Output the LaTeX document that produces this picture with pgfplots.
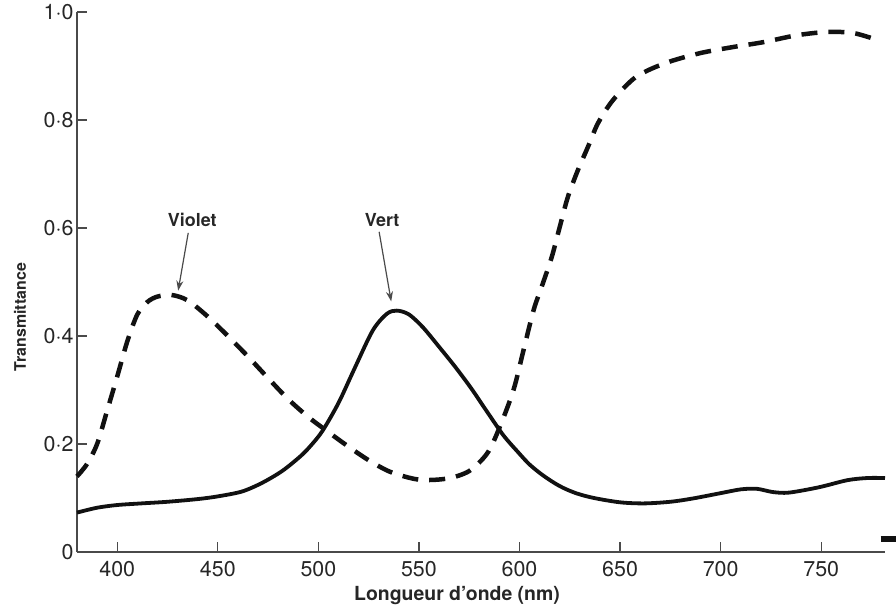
\documentclass[border=0pt]{standalone}
\usepackage{pgfplots}
\pgfplotsset{compat=1.18}
\usetikzlibrary{arrows.meta}
\usepackage{fontspec}
\setmainfont{TeX Gyre Heros}
\definecolor{axisgray}{HTML}{4A4A4A}
\definecolor{textgray}{HTML}{262626}
\definecolor{curveblack}{HTML}{111111}

\begin{document}
\begin{tikzpicture}
\path[use as bounding box] (-77bp,-58bp) rectangle (819bp,552bp);
\begin{axis}[
  at={(0,0)}, anchor=south west,
  scale only axis, width=808bp, height=540bp,
  xmin=380, xmax=781.7, ymin=0, ymax=1,
  axis x line=bottom, axis y line=left,
  axis line style={-, draw=axisgray, line width=1.4bp},
  tick align=inside,
  major tick length=10bp,
  tick style={draw=axisgray, line width=1.3bp},
  xtick={400,450,500,550,600,650,700,750},
  ytick={0,0.2,0.4,0.6,0.8,1.0},
  yticklabels={0,0·2,0·4,0·6,0·8,1·0},
  /pgf/number format/assume math mode=true,
  ticklabel style={font=\fontsize{21.5}{24}\selectfont, text=textgray},
  xticklabel style={yshift=-6bp},
  xlabel={Longueur d'onde (nm)},
  ylabel={Transmittance},
  xlabel style={at={(axis description cs:0.4703,-0.0889)}, anchor=base, font=\fontsize{19.5}{22}\selectfont\bfseries, text=textgray},
  ylabel style={at={(axis description cs:-0.0705,0.435)}, anchor=center, font=\fontsize{16}{19}\selectfont\bfseries, text=textgray},
  clip=false,
]
% Violet (dashed)
\addplot[curveblack, line width=4.5bp, dash pattern=on 16bp off 11bp, smooth, tension=0.5] coordinates {
(380,0.140)(385,0.163)(390,0.200)(395,0.262)(400,0.325)(405,0.390)(410,0.440)(415,0.463)(420,0.473)(427,0.476)(435,0.466)(445,0.436)(455,0.400)(465,0.362)(475,0.322)(485,0.283)(495,0.250)(505,0.222)(515,0.195)(525,0.170)(536,0.148)(550,0.134)(564,0.136)(575,0.150)(584,0.183)(590,0.230)(597,0.300)(602,0.374)(607,0.448)(611,0.491)(616,0.546)(620,0.602)(624,0.657)(629,0.707)(634,0.750)(639,0.794)(646.5,0.837)(658,0.880)(673,0.906)(690,0.924)(706,0.935)(721,0.944)(738,0.957)(753,0.963)(766,0.961)(778,0.948)
};
% Vert (solid)
\addplot[curveblack, line width=3.8bp, smooth, tension=0.5] coordinates {
(380,0.073)(390,0.082)(400,0.087)(412,0.090)(425,0.093)(440,0.098)(450,0.103)(462,0.112)(472,0.128)(482,0.150)(491,0.177)(496,0.196)(502,0.224)(510,0.276)(518,0.340)(527,0.410)(534,0.441)(539,0.447)(545,0.440)(552,0.416)(560,0.380)(568,0.343)(576,0.303)(584,0.259)(592,0.216)(599,0.186)(605,0.162)(612,0.141)(620,0.122)(628,0.109)(637,0.100)(650,0.092)(662,0.090)(675,0.093)(686,0.099)(700,0.109)(710,0.116)(718,0.117)(726,0.111)(734,0.110)(749,0.120)(763,0.133)(773,0.137)(781.7,0.137)
};
% small mark at right edge
\addplot[curveblack, line width=6bp, forget plot] coordinates {(779.5,0.024)(790,0.024)};

\draw[-{Stealth[length=10bp,width=7bp]}, axisgray, line width=1.2bp] (axis cs:435.3,0.591) -- (axis cs:430.3,0.484);
\draw[-{Stealth[length=10bp,width=7bp]}, axisgray, line width=1.2bp] (axis cs:530.2,0.593) -- (axis cs:536.2,0.464);
\node[font=\fontsize{18}{20}\selectfont\bfseries, text=textgray] at (axis cs:437.3,0.615) {Violet};
\node[font=\fontsize{18}{20}\selectfont\bfseries, text=textgray] at (axis cs:531.7,0.615) {Vert};
\end{axis}
\end{tikzpicture}
\end{document}
